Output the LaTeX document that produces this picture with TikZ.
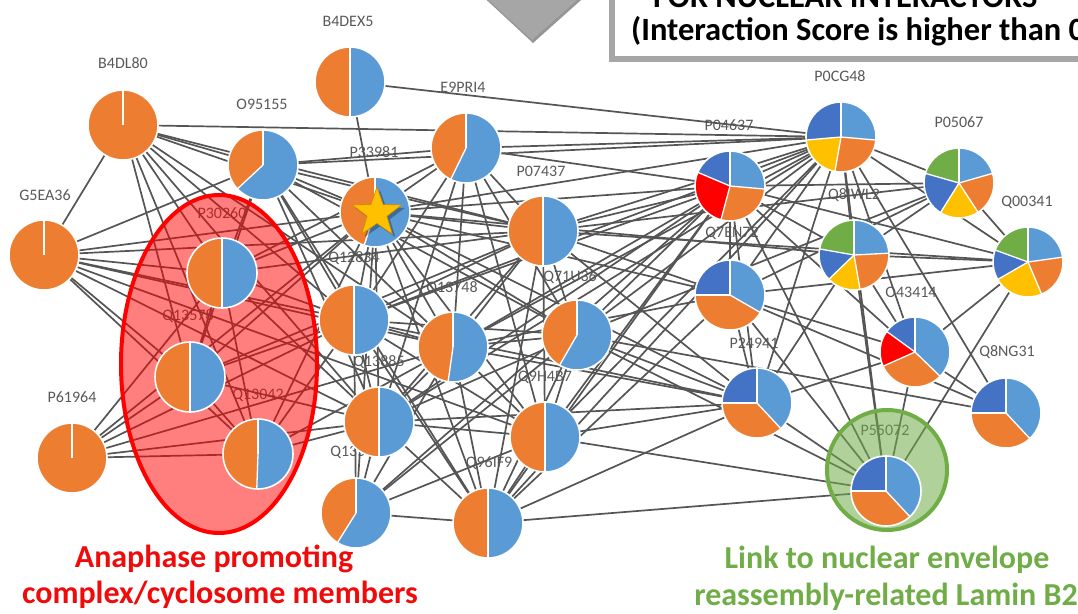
\documentclass[tikz,border=0pt]{standalone}
\usepackage{fontspec}
\setmainfont{Carlito}
\usetikzlibrary{shapes.geometric}
\definecolor{cOr}{HTML}{ED7D31}
\definecolor{cLB}{HTML}{5B9BD5}
\definecolor{cDB}{HTML}{4472C4}
\definecolor{cYe}{HTML}{FFC000}
\definecolor{cGr}{HTML}{70AD47}
\definecolor{cRe}{HTML}{FF0000}
\definecolor{edgeC}{HTML}{555555}
\definecolor{lblC}{HTML}{595959}
\definecolor{boxC}{HTML}{A6A6A6}
\definecolor{redT}{HTML}{F00A0A}
\definecolor{greenT}{HTML}{70AD47}
\definecolor{starD}{HTML}{D08A00}
\tikzset{
  pn/.style={circle, minimum size=70pt, inner sep=0pt},
  lbl/.style={font=\fontsize{16}{16}\selectfont, text=lblC, inner sep=0pt},
  edge/.style={draw=edgeC, line width=1.7pt},
  redtxt/.style={font=\bfseries\fontsize{32}{32}\selectfont, text=redT, inner sep=0pt},
  greentxt/.style={font=\bfseries\fontsize{32}{32}\selectfont, text=greenT, inner sep=0pt},
  titletxt/.style={font=\bfseries\fontsize{32.5}{32.5}\selectfont, text=black, inner sep=0pt},
}
\newcommand\drawpie[2]{%
  \foreach \a/\b/\c in {#2}{\fill[\c] (#1.center) -- ++(\a:35) arc[start angle=\a,end angle=\b,radius=35] -- cycle;}
  \foreach \a/\b/\c in {#2}{\draw[white,line width=1.3pt] (#1.center) -- ++(\a:35);}
  \draw[white,line width=1.6pt] (#1.center) circle[radius=35];
}
\begin{document}
\begin{tikzpicture}[x=1pt,y=1pt]
\useasboundingbox (0,0) rectangle (1078,-613);
% ---------- node positions ----------
\node[pn] (b4dex5) at (350,-82) {};
\node[pn] (b4dl80) at (123,-125) {};
\node[pn] (o95155) at (263,-165) {};
\node[pn] (e9pri4) at (466,-148) {};
\node[pn] (p33981) at (375,-212) {};
\node[pn] (g5ea36) at (44,-255) {};
\node[pn] (p30260) at (222,-273) {};
\node[pn] (p07437) at (543,-231) {};
\node[pn] (p0cg48) at (841,-137) {};
\node[pn] (p04637) at (730,-186) {};
\node[pn] (p05067) at (959,-183) {};
\node[pn] (q00341) at (1028,-262) {};
\node[pn] (q8iwl2) at (854,-255) {};
\node[pn] (q7en72) at (730,-295) {};
\node[pn] (o43414) at (915,-352) {};
\node[pn] (p24941) at (757,-403) {};
\node[pn] (q8ng31) at (1006,-413) {};
\node[pn] (p55072) at (886,-491) {};
\node[pn] (q71u36) at (577,-335) {};
\node[pn] (q9h4b7) at (545,-437) {};
\node[pn] (q12834) at (354,-320) {};
\node[pn] (q13748) at (453,-347) {};
\node[pn] (q13578) at (190,-377) {};
\node[pn] (q13042) at (258,-454) {};
\node[pn] (p61964) at (72,-458) {};
\node[pn] (q13885) at (379,-422) {};
\node[pn] (q13509) at (356,-513) {};
\node[pn] (q96if9) at (488,-523) {};
% ---------- labels ----------
\node[lbl] (l-b4dex5) at (348,-21) {B4DEX5};
\node[lbl] (l-b4dl80) at (123,-63) {B4DL80};
\node[lbl] (l-o95155) at (262,-104) {O95155};
\node[lbl] (l-e9pri4) at (463,-87) {E9PRI4};
\node[lbl] (l-p33981) at (374,-152) {P33981};
\node[lbl] (l-g5ea36) at (45,-195) {G5EA36};
\node[lbl] (l-p30260) at (222,-213) {P30260};
\node[lbl] (l-p07437) at (541,-171) {P07437};
\node[lbl] (l-p0cg48) at (840,-76) {P0CG48};
\node[lbl] (l-p04637) at (729,-125) {P04637};
\node[lbl] (l-p05067) at (959,-122) {P05067};
\node[lbl] (l-q00341) at (1027,-202) {Q00341};
\node[lbl] (l-q8iwl2) at (854,-195) {Q8IWL2};
\node[lbl] (l-q7en72) at (732,-233) {Q7EN72};
\node[lbl] (l-o43414) at (911,-292) {O43414};
\node[lbl] (l-p24941) at (754,-343) {P24941};
\node[lbl] (l-q8ng31) at (1007,-352) {Q8NG31};
\node[lbl] (l-p55072) at (885,-430) {P55072};
\node[lbl] (l-q71u36) at (570,-277) {Q71U36};
\node[lbl] (l-q9h4b7) at (545,-377) {Q9H4B7};
\node[lbl] (l-q12834) at (354,-258) {Q12834};
\node[lbl] (l-q13748) at (452,-288) {Q13748};
\node[lbl] (l-q13578) at (188,-316) {Q13578};
\node[lbl] (l-q13042) at (258,-395) {Q13042};
\node[lbl] (l-p61964) at (72,-397) {P61964};
\node[lbl] (l-q13885) at (379,-362) {Q13885};
\node[lbl] (l-q13509) at (356,-452) {Q13509};
\node[lbl] (l-q96if9) at (489,-463) {Q96IF9};
% ---------- edges ----------
\foreach \s/\t in {b4dex5/p33981, b4dex5/p0cg48,
 b4dl80/g5ea36, b4dl80/o95155, b4dl80/p33981, b4dl80/q12834, b4dl80/p30260, b4dl80/q13578, b4dl80/q13042, b4dl80/q13885, b4dl80/p0cg48, b4dl80/q13748, b4dl80/p07437,
 g5ea36/o95155, g5ea36/p30260, g5ea36/q13578, g5ea36/q13042, g5ea36/p33981, g5ea36/q12834, g5ea36/q13885, g5ea36/p07437, g5ea36/q13748, g5ea36/q9h4b7,
 o95155/p33981, o95155/e9pri4, o95155/p0cg48, o95155/q12834, o95155/q13748, o95155/p30260, o95155/q13578, o95155/q13885, o95155/p07437, o95155/q71u36, o95155/q96if9,
 e9pri4/p33981, e9pri4/p0cg48, e9pri4/p04637, e9pri4/p07437, e9pri4/q12834, e9pri4/q13748, e9pri4/q71u36, e9pri4/q9h4b7, e9pri4/q13885, e9pri4/p30260,
 p33981/p0cg48, p33981/p04637, p33981/p07437, p33981/q12834, p33981/q13748, p33981/q71u36, p33981/q9h4b7, p33981/q13885, p33981/q13509, p33981/q96if9, p33981/p30260, p33981/q13578, p33981/q13042, p33981/q7en72, p33981/p24941, p33981/q8iwl2,
 p07437/p0cg48, p07437/p04637, p07437/q12834, p07437/q13748, p07437/q71u36, p07437/q9h4b7, p07437/q13885, p07437/q96if9, p07437/p30260, p07437/q13578, p07437/p24941, p07437/q7en72,
 q71u36/p0cg48, q71u36/p04637, q71u36/q12834, q71u36/q13748, q71u36/q9h4b7, q71u36/q13885, q71u36/q96if9, q71u36/p24941, q71u36/q13509, q71u36/p55072,
 q12834/p0cg48, q12834/p04637, q12834/q13748, q12834/q13885, q12834/p30260, q12834/q13578, q12834/q13042, q12834/q96if9, q12834/q9h4b7, q12834/p24941, q12834/q13509,
 q13748/p0cg48, q13748/p04637, q13748/q13885, q13748/q9h4b7, q13748/q96if9, q13748/p24941, q13748/q7en72, q13748/q13509, q13748/q13042,
 q13885/p0cg48, q13885/q9h4b7, q13885/q96if9, q13885/q13509, q13885/p24941, q13885/q13042, q13885/q13578, q13885/p30260, q13885/p04637,
 q13509/q96if9, q13509/q9h4b7, q13509/p04637,
 q9h4b7/p0cg48, q9h4b7/p04637, q9h4b7/q96if9, q9h4b7/p24941, q9h4b7/p55072,
 q96if9/p0cg48, q96if9/p04637, q96if9/p24941, q96if9/p55072, q96if9/q7en72,
 p30260/q13578, p30260/q13042, p30260/p61964, q13578/q13042, q13578/p61964, q13042/p61964, p61964/q12834, p61964/q13885, p61964/p33981, p61964/q13748,
 p0cg48/p04637, p0cg48/p05067, p0cg48/q00341, p0cg48/q8iwl2, p0cg48/q7en72, p0cg48/o43414, p0cg48/p24941, p0cg48/q8ng31, p0cg48/p55072,
 p04637/p05067, p04637/q00341, p04637/q8iwl2, p04637/q7en72, p04637/o43414, p04637/p24941, p04637/p55072,
 p05067/q8iwl2, p05067/q00341, p05067/q7en72, p05067/p07437, p05067/q71u36,
 q8iwl2/q00341, q8iwl2/o43414, q8iwl2/p55072, q8iwl2/p24941,
 q00341/o43414, q00341/p55072, q00341/q7en72, q00341/p07437,
 q7en72/o43414, q7en72/p24941, q7en72/p55072, q7en72/q8ng31,
 o43414/p24941, o43414/p55072, o43414/q8ng31,
 p24941/p55072, q8ng31/q71u36}
 \draw[edge] (\s) -- (\t);
% ---------- highlight areas ----------
\draw[cRe, line width=4pt, fill=cRe, fill opacity=0.5] (219,-364) ellipse[x radius=98, y radius=169];
\draw[cGr, line width=4pt, fill=cGr, fill opacity=0.55] (887,-470) circle[radius=60];
% ---------- pies ----------
\drawpie{b4dex5}{90/270/cOr, -90/90/cLB}
\drawpie{b4dl80}{90/450/cOr}
\drawpie{o95155}{90/223/cOr, 223/450/cLB}
\drawpie{e9pri4}{90/244/cOr, 244/450/cLB}
\drawpie{p33981}{90/252/cOr, 252/450/cLB}
\drawpie{g5ea36}{90/450/cOr}
\drawpie{p30260}{90/270/cOr, -90/90/cLB}
\drawpie{p07437}{90/270/cOr, -90/90/cLB}
\drawpie{p0cg48}{-5/90/cLB, 90/185/cDB, 185/260/cYe, 260/355/cOr}
\drawpie{p04637}{-5/90/cLB, 90/157/cDB, 157/255/cRe, 255/355/cOr}
\drawpie{p05067}{16/90/cLB, 90/164/cGr, 164/238/cDB, 238/303/cYe, 303/376/cOr}
\drawpie{q00341}{8/90/cLB, 90/160/cGr, 160/210/cDB, 210/293/cYe, 293/368/cOr}
\drawpie{q8iwl2}{3/90/cLB, 90/170/cGr, 170/224/cDB, 224/280/cYe, 280/363/cOr}
\drawpie{q7en72}{-30/90/cLB, 90/180/cDB, 180/330/cOr}
\drawpie{o43414}{-44/90/cLB, 90/144/cDB, 144/204/cRe, 204/316/cOr}
\drawpie{p24941}{-47/90/cLB, 90/180/cDB, 180/313/cOr}
\drawpie{q8ng31}{-47/90/cLB, 90/180/cDB, 180/313/cOr}
\drawpie{p55072}{-47/90/cLB, 90/180/cDB, 180/313/cOr}
\drawpie{q71u36}{90/240/cOr, 240/450/cLB}
\drawpie{q9h4b7}{90/270/cOr, -90/90/cLB}
\drawpie{q12834}{90/270/cOr, -90/90/cLB}
\drawpie{q13748}{90/262/cOr, 262/450/cLB}
\drawpie{q13578}{90/270/cOr, -90/90/cLB}
\drawpie{q13042}{90/268/cOr, 268/450/cLB}
\drawpie{p61964}{90/450/cOr}
\drawpie{q13885}{90/270/cOr, -90/90/cLB}
\drawpie{q13509}{90/238/cOr, 238/450/cLB}
\drawpie{q96if9}{90/270/cOr, -90/90/cLB}
% ---------- star ----------
\node[star, star points=5, star point ratio=2.5, minimum size=52pt, inner sep=0pt, fill=black, fill opacity=0.3] (starshadow) at (380,-216) {};
\node[star, star points=5, star point ratio=2.5, minimum size=52pt, inner sep=0pt, fill=cYe, draw=starD, line width=0.6pt] (starmark) at (377,-213) {};
% ---------- captions ----------
\node[redtxt, anchor=base] (cap-red1) at (214,-567) {Anaphase promoting};
\node[redtxt, anchor=base] (cap-red2) at (220,-603) {complex/cyclosome members};
\node[greentxt, anchor=base] (cap-grn1) at (887,-568) {Link to nuclear envelope};
\node[greentxt, anchor=base] (cap-grn2) at (886,-605) {reassembly-related Lamin B2};
% ---------- title box and arrow ----------
\fill[boxC!90!black] (478,8) -- (590,8) -- (533,-43) -- cycle;
\fill[boxC] (480,8) -- (586,8) -- (532,-40) -- cycle;
\draw[boxC, line width=6pt, fill=white] (611.5,30) rectangle (1110,-59);
\node[titletxt, anchor=base west] (title1) at (653,-8) {FOR NUCLEAR INTERACTORS};
\node[titletxt, anchor=base west] (title2) at (631,-40) {(Interaction Score is higher than 0};
\end{tikzpicture}
\end{document}
